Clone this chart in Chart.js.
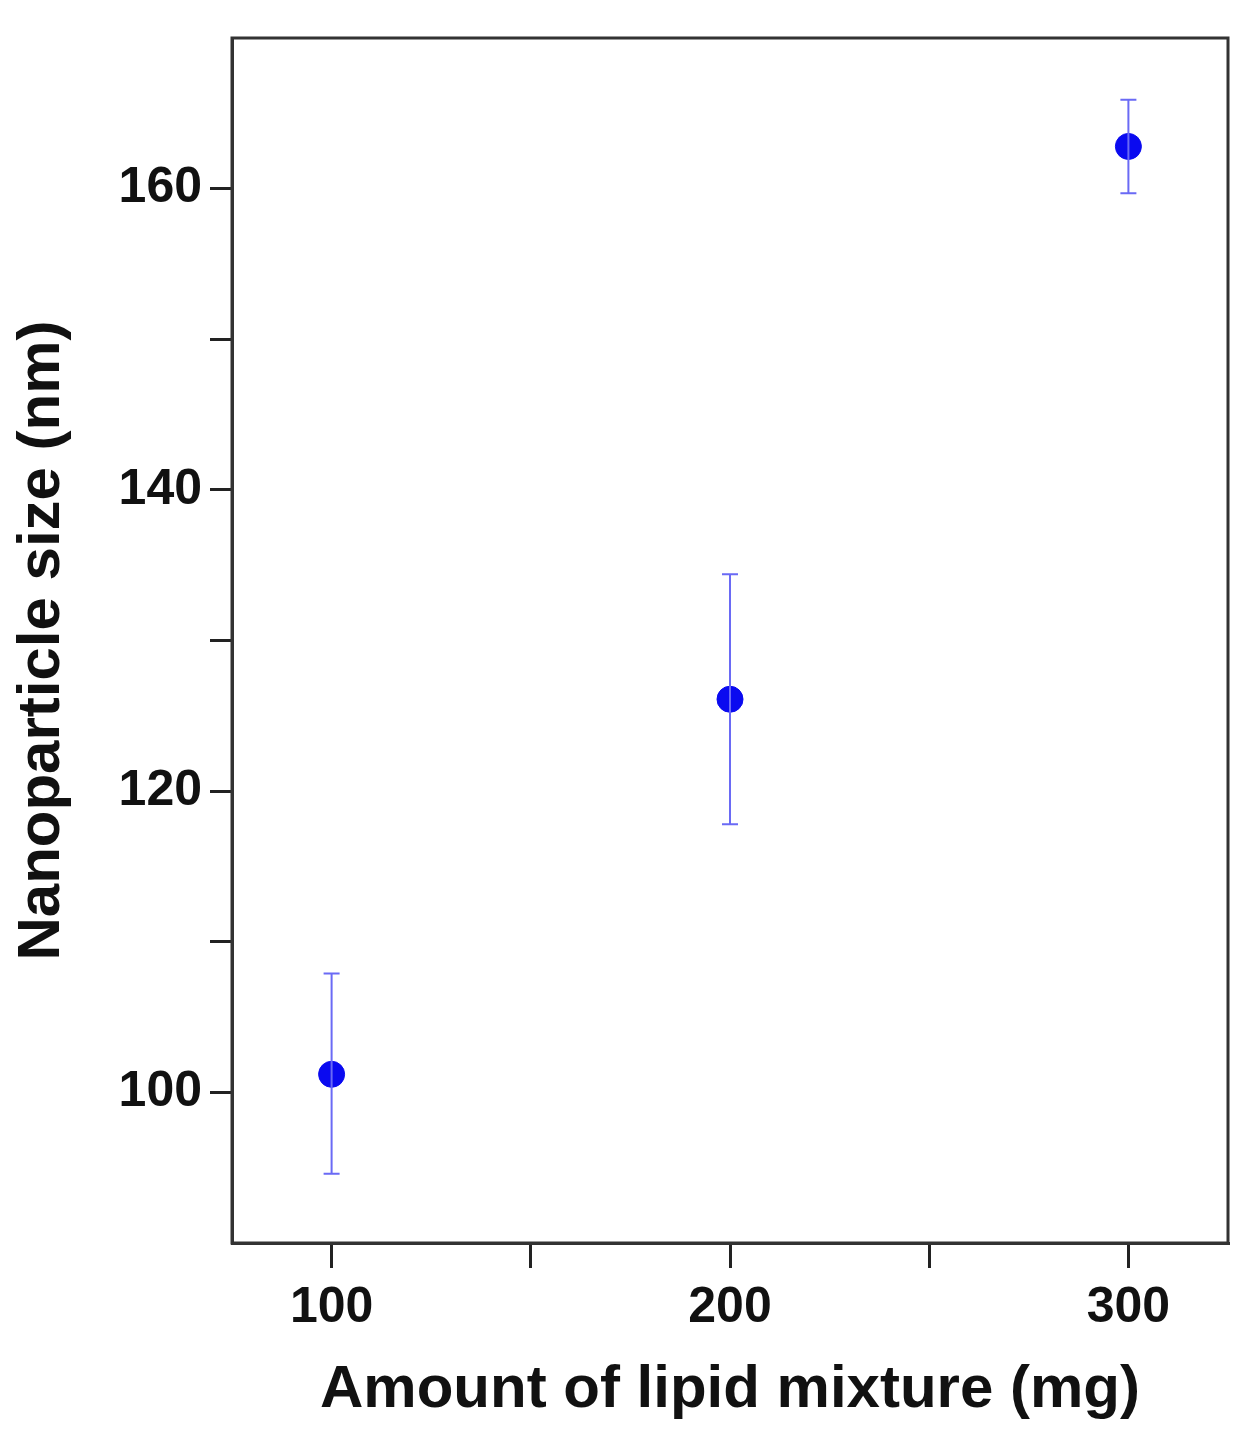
<!DOCTYPE html>
<html><head><meta charset="utf-8">
<script src="https://cdn.jsdelivr.net/npm/chart.js@4/dist/chart.umd.min.js"></script>
<style>html,body{margin:0;padding:0;background:#fff}#w{width:1247px;height:1440px}</style>
</head><body><div id="w"><canvas id="c"></canvas></div>
<script>
const lipidAmount = [100, 200, 300];
const particleSize = [101.2, 126.1, 162.8];
const errUpper = [107.9, 134.4, 165.9];
const errLower = [94.6, 117.8, 159.7];
const yLabelTicks = [100, 120, 140, 160];
const xLabelTicks = [100, 200, 300];

const errPlugin = {
  id: 'err',
  afterDatasetsDraw(chart) {
    const ctx = chart.ctx, x = chart.scales.x, y = chart.scales.y;
    ctx.save();
    ctx.strokeStyle = '#6a6af5'; ctx.lineWidth = 2;
    lipidAmount.forEach((v, i) => {
      const px = x.getPixelForValue(v), t = y.getPixelForValue(errUpper[i]), b = y.getPixelForValue(errLower[i]);
      ctx.beginPath();
      ctx.moveTo(px, t); ctx.lineTo(px, b);
      ctx.moveTo(px - 8, t); ctx.lineTo(px + 8, t);
      ctx.moveTo(px - 8, b); ctx.lineTo(px + 8, b);
      ctx.stroke();
    });
    ctx.restore();
  },
  afterDraw(chart) {
    const a = chart.chartArea, ctx = chart.ctx;
    ctx.save(); ctx.strokeStyle = '#333'; ctx.lineWidth = 3;
    ctx.strokeRect(a.left, a.top, a.right - a.left, a.bottom - a.top);
    ctx.restore();
  }
};

new Chart(document.getElementById('c'), {
  type: 'scatter',
  data: { datasets: [{
    data: lipidAmount.map((v, i) => ({ x: v, y: particleSize[i] })),
    backgroundColor: '#0a0af0', borderColor: '#0a0af0', pointRadius: 13, pointHoverRadius: 13
  }]},
  options: {
    responsive: true, maintainAspectRatio: false, animation: false,
    layout: { padding: { top: 0, right: 19, left: 0, bottom: 0 } },
    plugins: { legend: { display: false }, tooltip: { enabled: false } },
    scales: {
      x: {
        min: 75, max: 325,
        afterBuildTicks: s => { s.ticks = [100,150,200,250,300].map(v => ({ value: v })); },
        ticks: { color: '#111', font: { family: 'Arial, Liberation Sans', size: 50, weight: 'bold' }, padding: 10,
          callback: v => xLabelTicks.includes(v) ? String(v) : '' , maxRotation: 0, autoSkip: false },
        grid: { drawOnChartArea: false, tickLength: 25, color: '#222', lineWidth: 3 },
        border: { color: '#333', width: 3 },
        title: { display: true, text: 'Amount of lipid mixture (mg)', color: '#111',
          font: { family: 'Arial, Liberation Sans', size: 60, weight: 'bold' }, padding: { top: 4, bottom: 14 } },
        afterFit: s => { s.height = 197; }
      },
      y: {
        min: 90, max: 170,
        afterBuildTicks: s => { s.ticks = [100,110,120,130,140,150,160].map(v => ({ value: v })); },
        ticks: { color: '#111', font: { family: 'Arial, Liberation Sans', size: 50, weight: 'bold' }, padding: 8,
          callback: v => yLabelTicks.includes(v) ? String(v) : '', autoSkip: false },
        grid: { drawOnChartArea: false, tickLength: 22, color: '#222', lineWidth: 3 },
        border: { color: '#333', width: 3 },
        title: { display: true, text: 'Nanoparticle size (nm)', color: '#111',
          font: { family: 'Arial, Liberation Sans', size: 60, weight: 'bold' }, padding: { top: 6, bottom: 10 } },
        afterFit: s => { s.width = 232; }
      }
    }
  },
  plugins: [errPlugin]
});
</script></body></html>
